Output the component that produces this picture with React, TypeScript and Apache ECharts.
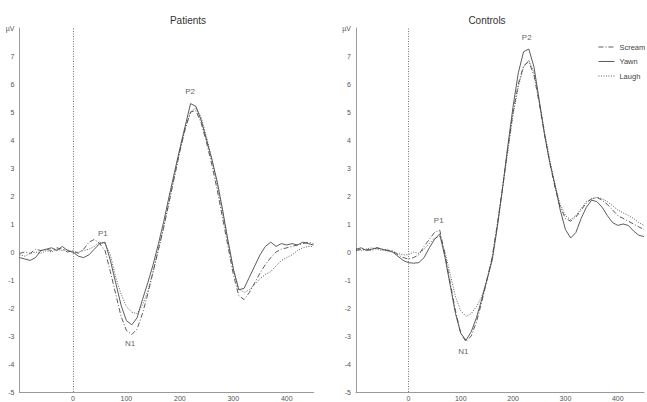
import React, { useEffect, useRef } from "react";
import * as echarts from "echarts";

const times = [-100, -90, -80, -70, -60, -50, -40, -30, -20, -10, 0, 10, 20, 30, 40, 50, 60, 70, 80, 90, 100, 110, 120, 130, 140, 150, 160, 170, 180, 190, 200, 210, 220, 230, 240, 250, 260, 270, 280, 290, 300, 310, 320, 330, 340, 350, 360, 370, 380, 390, 400, 410, 420, 430, 440, 450];

const patientsScream = [-0.05, 0.0, -0.05, 0.1, 0.05, 0.1, 0.05, 0.15, 0.1, 0.0, 0.05, -0.05, 0.1, 0.35, 0.45, 0.3, 0.05, -0.7, -1.5, -2.3, -2.8, -2.95, -2.75, -2.2, -1.5, -0.7, 0.1, 0.9, 1.8, 2.7, 3.6, 4.4, 5.0, 5.05, 4.6, 3.9, 3.1, 2.2, 1.2, 0.2, -0.8, -1.55, -1.7, -1.45, -1.1, -0.75, -0.45, -0.2, 0.0, 0.1, 0.15, 0.2, 0.25, 0.3, 0.35, 0.3];
const patientsYawn = [-0.2, -0.25, -0.3, -0.2, 0.05, 0.1, 0.15, 0.05, 0.2, 0.05, 0.0, -0.15, -0.2, -0.1, 0.1, 0.3, 0.35, -0.3, -1.1, -1.9, -2.45, -2.6, -2.35, -1.7, -1.1, -0.45, 0.3, 1.1, 2.0, 2.85, 3.7, 4.5, 5.3, 5.2, 4.7, 4.0, 3.3, 2.5, 1.5, 0.4, -0.6, -1.35, -1.3, -0.9, -0.5, -0.1, 0.2, 0.35, 0.2, 0.3, 0.25, 0.3, 0.25, 0.35, 0.3, 0.25];
const patientsLaugh = [-0.1, -0.15, -0.05, 0.0, -0.05, 0.05, 0.0, 0.1, 0.05, 0.1, -0.05, 0.0, 0.05, 0.1, 0.2, 0.35, 0.3, -0.1, -0.9, -1.5, -1.95, -2.15, -2.2, -1.9, -1.4, -0.7, 0.1, 0.9, 1.8, 2.7, 3.6, 4.4, 5.0, 5.15, 4.8, 4.1, 3.3, 2.4, 1.4, 0.4, -0.6, -1.3, -1.45, -1.35, -1.15, -0.95, -0.8, -0.7, -0.5, -0.3, -0.2, -0.1, 0.05, 0.15, 0.2, 0.2];

const controlsScream = [0.05, 0.1, 0.1, 0.05, 0.15, 0.1, 0.05, 0.05, -0.1, -0.2, -0.25, -0.2, -0.1, 0.2, 0.45, 0.7, 0.78, -0.1, -1.1, -2.1, -2.9, -3.2, -3.0, -2.5, -1.8, -1.0, -0.2, 1.0, 2.3, 3.7, 5.0, 6.0, 6.65, 6.8, 6.3, 5.3, 4.2, 3.2, 2.3, 1.6, 1.2, 1.1, 1.25, 1.5, 1.75, 1.9, 1.95, 1.85, 1.7, 1.5, 1.3, 1.2, 1.1, 1.0, 0.9, 0.8];
const controlsYawn = [0.1, 0.15, 0.05, 0.1, 0.15, 0.1, 0.05, 0.0, -0.15, -0.3, -0.38, -0.4, -0.38, -0.2, 0.15, 0.45, 0.65, -0.2, -1.2, -2.2, -2.9, -3.15, -2.85, -2.35, -1.7, -1.0, -0.3, 0.9, 2.3, 3.8, 5.2, 6.4, 7.15, 7.25, 6.6, 5.4, 4.2, 3.2, 2.4, 1.5, 0.8, 0.5, 0.7, 1.2, 1.6, 1.85, 1.8, 1.6, 1.3, 1.05, 0.95, 1.0, 0.95, 0.75, 0.6, 0.55];
const controlsLaugh = [0.1, 0.05, 0.1, 0.15, 0.1, 0.05, 0.1, 0.0, -0.05, -0.1, -0.1, 0.0, -0.05, 0.1, 0.3, 0.5, 0.55, 0.0, -0.8, -1.6, -2.1, -2.3, -2.2, -1.95, -1.6, -1.0, -0.2, 1.0, 2.3, 3.6, 4.9, 5.9, 6.6, 6.85, 6.4, 5.4, 4.3, 3.3, 2.4, 1.7, 1.3, 1.15, 1.3, 1.55, 1.8, 1.9, 1.95, 1.9, 1.8, 1.65, 1.5, 1.4, 1.3, 1.2, 1.05, 0.95];

const panelTitles = ["Patients", "Controls"];
const conditionNames = ["Scream", "Yawn", "Laugh"];
const xTickLabels = [0, 100, 200, 300, 400];

// component peak labels: [time, value, text]
const patientsPeaks: [number, number, string][] = [
  [56, 0.67, "P1"],
  [107, -3.25, "N1"],
  [219, 5.72, "P2"],
];
const controlsPeaks: [number, number, string][] = [
  [58, 1.13, "P1"],
  [105, -3.55, "N1"],
  [226, 7.67, "P2"],
];

const lineColor = "#4a4a4a";
const dashTypes: any[] = [[5, 2, 1, 2], "solid", [1, 1.5]];
const FONT = "Liberation Sans, Arial, sans-serif";

function pairs(vals: number[]) {
  return times.map((t, i) => [t, vals[i]]);
}

export default function App() {
  const ref = useRef<HTMLDivElement>(null);
  useEffect(() => {
    if (!ref.current) return;
    const chart = echarts.init(ref.current, null, { renderer: "svg" });
    const panels = [
      [patientsScream, patientsYawn, patientsLaugh],
      [controlsScream, controlsYawn, controlsLaugh],
    ];
    const peaks = [patientsPeaks, controlsPeaks];
    const grids = [
      { left: 19.5, top: 28, width: 294, height: 367 },
      { left: 356, top: 28, width: 294, height: 367 },
    ];
    const xAxes = grids.map((_, i) => ({
      type: "value",
      gridIndex: i,
      min: -100,
      max: 450,
      interval: 100,
      axisLine: { onZero: false, lineStyle: { color: "#999", width: 1 } },
      axisTick: { show: false },
      splitLine: { show: false },
      axisLabel: {
        fontSize: 7,
        color: "#555",
        margin: 3,
        fontFamily: FONT,
        formatter: (v: number) => (xTickLabels.indexOf(v) >= 0 ? String(v) : ""),
      },
    }));
    const yAxes = grids.map((_, i) => ({
      type: "value",
      gridIndex: i,
      min: -5,
      max: 8,
      interval: 1,
      axisLine: { show: true, onZero: false, lineStyle: { color: "#999", width: 1 } },
      axisTick: { show: false },
      splitLine: { show: false },
      axisLabel: {
        fontSize: 7,
        color: "#555",
        margin: 5,
        fontFamily: FONT,
        formatter: (v: number) => (v === 8 ? "µV" : String(v)),
      },
    }));
    const series: any[] = [];
    panels.forEach((vals, p) => {
      vals.forEach((arr, k) => {
        series.push({
          type: "line",
          name: conditionNames[k],
          xAxisIndex: p,
          yAxisIndex: p,
          data: pairs(arr),
          showSymbol: false,
          symbol: "none",
          lineStyle: { color: lineColor, width: 0.9, type: dashTypes[k] },
          itemStyle: { color: lineColor },
          markLine:
            k === 0
              ? {
                  silent: true,
                  symbol: "none",
                  label: { show: false },
                  lineStyle: { color: "#666", type: [1, 1.5], width: 0.9 },
                  data: [{ xAxis: 0 }],
                }
              : undefined,
        });
      });
      series.push({
        type: "scatter",
        xAxisIndex: p,
        yAxisIndex: p,
        symbolSize: 0,
        clip: false,
        silent: true,
        data: peaks[p].map((d) => ({ value: [d[0], d[1]], name: d[2] })),
        label: {
          show: true,
          position: "inside",
          formatter: (prm: any) => prm.name,
          fontSize: 8,
          color: "#333",
          fontFamily: FONT,
        },
      });
    });
    chart.setOption({
      animation: false,
      backgroundColor: "#fff",
      title: panelTitles.map((t, i) => ({
        text: t,
        left: i === 0 ? 183 : 482,
        top: 10,
        textAlign: "center",
        textStyle: { fontSize: 10, fontWeight: "normal", color: "#333", fontFamily: FONT },
      })),
      legend: {
        data: conditionNames,
        orient: "vertical",
        left: 593,
        top: 38,
        itemWidth: 16,
        itemHeight: 8,
        itemGap: 6.5,
        itemStyle: { opacity: 0 },
        lineStyle: { width: 0.9 },
        textStyle: { fontSize: 7.5, color: "#444", fontFamily: FONT },
      },
      grid: grids,
      xAxis: xAxes,
      yAxis: yAxes,
      series,
    });
    return () => chart.dispose();
  }, []);
  return <div ref={ref} style={{ width: 647, height: 402, position: "absolute", left: 0, top: 0 }} />;
}
